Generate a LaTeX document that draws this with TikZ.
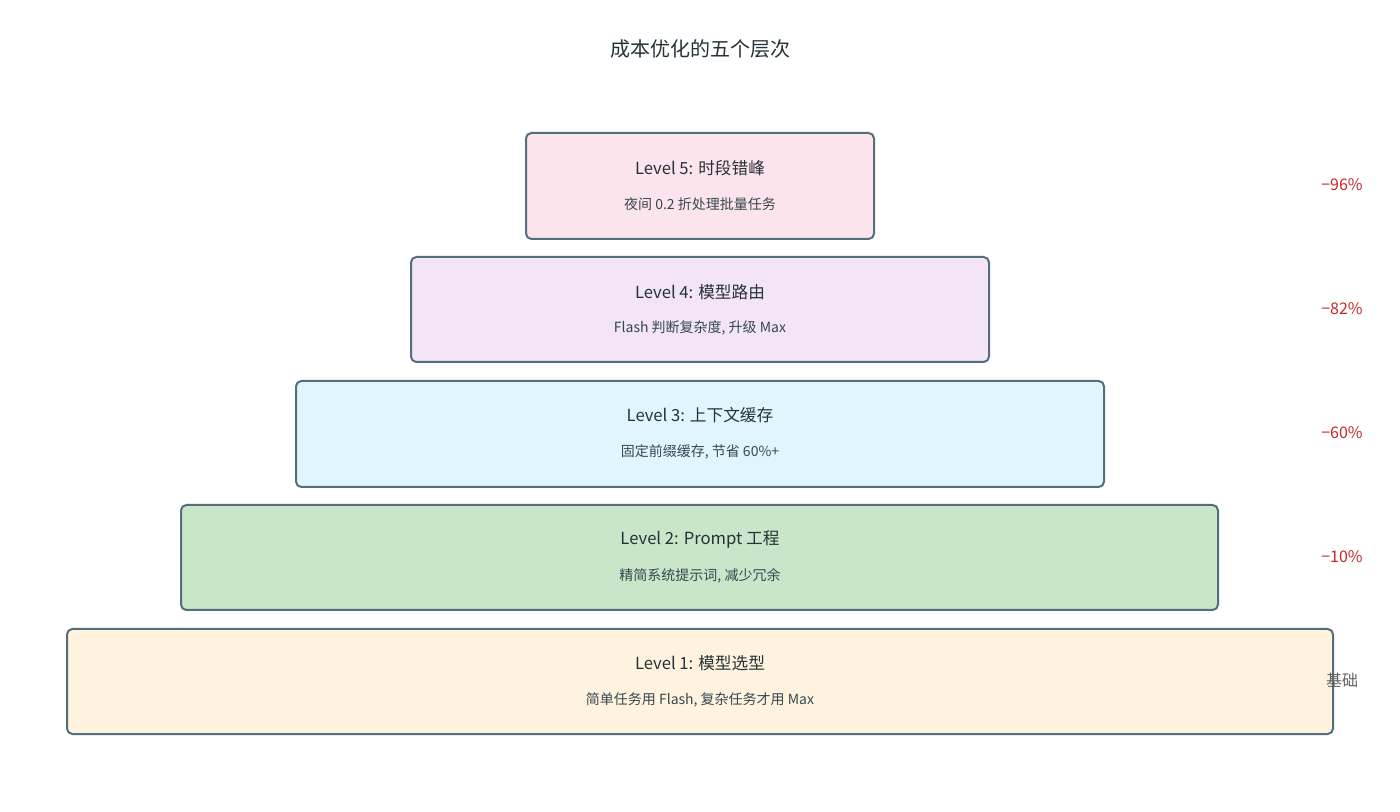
\documentclass[tikz,border=0pt]{standalone}
\usepackage{fontspec}
\setmainfont{Noto Sans CJK SC}
\begin{document}
\begin{tikzpicture}[x=0.75pt,y=-0.75pt,
  lvl/.style={draw=bordc,line width=1.5pt,rounded corners=4pt},
  ttl/.style={font=\fontsize{12.5}{14}\selectfont,text=textc},
  sub/.style={font=\fontsize{10.5}{12}\selectfont,text=subc},
  pct/.style={font=\fontsize{12}{14}\selectfont,text=redc}]
\definecolor{bordc}{HTML}{546E7A}
\definecolor{textc}{HTML}{263238}
\definecolor{subc}{HTML}{37474F}
\definecolor{redc}{HTML}{C62828}
\definecolor{grayc}{HTML}{616161}
\definecolor{f5}{HTML}{FCE4EC}
\definecolor{f4}{HTML}{F3E5F5}
\definecolor{f3}{HTML}{E1F5FE}
\definecolor{f2}{HTML}{C8E6C9}
\definecolor{f1}{HTML}{FFF3E0}
\useasboundingbox[fill=white] (0,0) rectangle (1400,812);
\node[font=\fontsize{15}{18}\selectfont,text=textc] (title) at (700,49) {成本优化的五个层次};
\path[lvl,fill=f5] (526,133) rectangle (874,239);
\path[lvl,fill=f4] (411,257) rectangle (989,362);
\path[lvl,fill=f3] (296,381) rectangle (1104,487);
\path[lvl,fill=f2] (181,505) rectangle (1218,610);
\path[lvl,fill=f1] (67,629) rectangle (1333,734);
\node[ttl] (t5) at (700,168) {Level 5: 时段错峰};
\node[sub] (s5) at (700,204) {夜间 0.2 折处理批量任务};
\node[ttl] (t4) at (700,292) {Level 4: 模型路由};
\node[sub] (s4) at (700,328) {Flash 判断复杂度, 升级 Max};
\node[ttl] (t3) at (700,415) {Level 3: 上下文缓存};
\node[sub] (s3) at (700,452) {固定前缀缓存, 节省 60\%+};
\node[ttl] (t2) at (700,540) {Level 2: Prompt 工程};
\node[sub] (s2) at (700,576) {精简系统提示词, 减少冗余};
\node[ttl] (t1) at (700,663) {Level 1: 模型选型};
\node[sub] (s1) at (700,700) {简单任务用 Flash, 复杂任务才用 Max};
\node[pct] (p5) at (1342,185) {−96\%};
\node[pct] (p4) at (1342,309) {−82\%};
\node[pct] (p3) at (1342,433) {−60\%};
\node[pct] (p2) at (1342,557) {−10\%};
\node[pct,text=grayc] (p1) at (1342,680) {基础};
\end{tikzpicture}
\end{document}
